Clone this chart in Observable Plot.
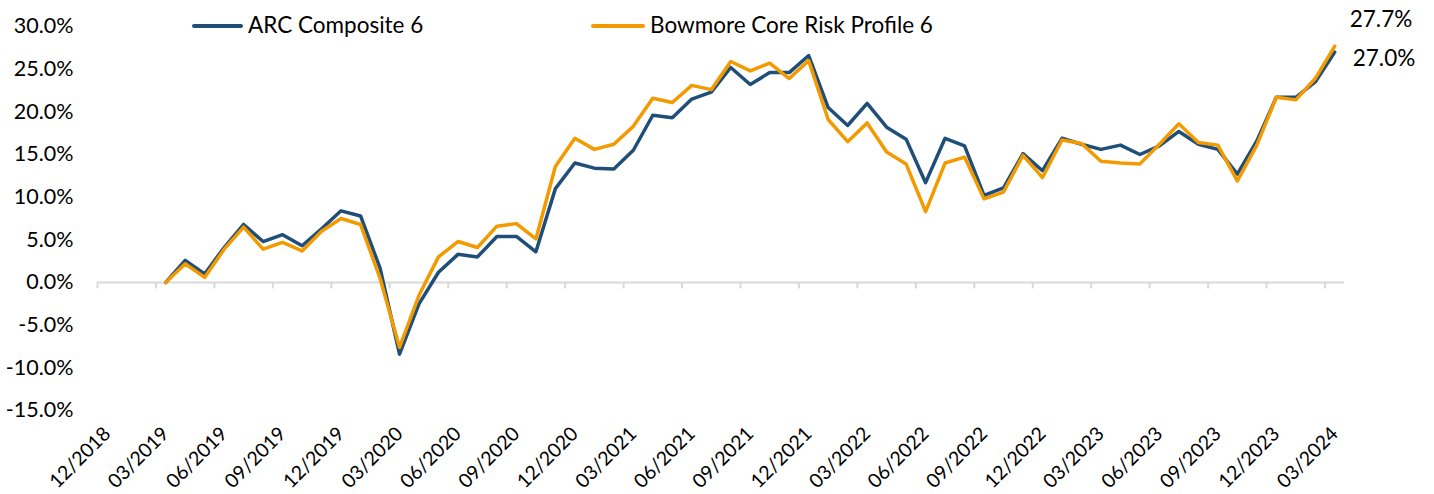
<!DOCTYPE html>
<html><head><meta charset="utf-8">
<script src="https://cdn.jsdelivr.net/npm/d3@7"></script>
<script src="https://cdn.jsdelivr.net/npm/@observablehq/plot@0.6"></script>
<style>
body{margin:0;background:#fff;font-family:Lato,sans-serif;}
#wrap{position:relative;width:1434px;height:494px;overflow:hidden;}
.sw{position:absolute;height:4px;border-radius:2px;}
.lt{position:absolute;font-size:22.5px;line-height:24px;color:#000;white-space:nowrap;}
</style></head><body><div id="wrap"></div>
<script>
const months = ["12/2018","01/2019","02/2019","03/2019","04/2019","05/2019","06/2019","07/2019","08/2019","09/2019","10/2019","11/2019",
"12/2019","01/2020","02/2020","03/2020","04/2020","05/2020","06/2020","07/2020","08/2020","09/2020","10/2020","11/2020",
"12/2020","01/2021","02/2021","03/2021","04/2021","05/2021","06/2021","07/2021","08/2021","09/2021","10/2021","11/2021",
"12/2021","01/2022","02/2022","03/2022","04/2022","05/2022","06/2022","07/2022","08/2022","09/2022","10/2022","11/2022",
"12/2022","01/2023","02/2023","03/2023","04/2023","05/2023","06/2023","07/2023","08/2023","09/2023","10/2023","11/2023",
"12/2023","01/2024","02/2024","03/2024"];
const startMonth = "03/2019";
const seriesNames = ["ARC Composite 6", "Bowmore Core Risk Profile 6"];
const seriesColors = ["#1F4E79", "#F39A00"];
// cumulative returns (%) from 03/2019 to 03/2024
const arc = [0.0,2.6,1.0,4.1,6.8,4.8,5.6,4.3,6.3,8.4,7.8,1.7,-8.4,-2.5,1.2,3.3,3.0,5.4,5.4,3.6,
11.0,14.0,13.4,13.3,15.5,19.6,19.3,21.5,22.3,25.2,23.2,24.6,24.6,26.6,20.5,18.4,21.0,18.2,16.8,11.7,
16.9,16.0,10.2,11.1,15.1,13.1,16.9,16.2,15.6,16.1,15.0,16.0,17.7,16.2,15.6,12.7,16.6,21.7,21.7,23.5,27.0];
const bowmore = [0.0,2.2,0.6,3.9,6.5,3.9,4.7,3.7,6.0,7.5,6.8,0.5,-7.6,-1.5,3.0,4.8,4.1,6.6,6.9,5.1,
13.6,16.9,15.6,16.2,18.3,21.6,21.1,23.1,22.6,25.9,24.8,25.7,23.9,26.0,19.1,16.5,18.7,15.3,13.9,8.3,
14.0,14.7,9.8,10.6,14.9,12.3,16.7,16.3,14.2,14.0,13.9,16.2,18.6,16.4,16.1,11.9,16.1,21.7,21.4,23.9,27.7];
const yTicks = [-15,-10,-5,0,5,10,15,20,25,30];

const start = months.indexOf(startMonth);
const rows = [];
arc.forEach((v,i)=>rows.push({series:seriesNames[0], x:start+i+0.5, y:v}));
bowmore.forEach((v,i)=>rows.push({series:seriesNames[1], x:start+i+0.5, y:v}));
const labelIdx = d3.range(0, months.length, 3);
const lastX = start + arc.length - 1 + 0.5;
const endArc = [{x:lastX, y:arc[arc.length-1], label:arc[arc.length-1].toFixed(1)+"%"}];
const endBow = [{x:lastX, y:bowmore[bowmore.length-1], label:bowmore[bowmore.length-1].toFixed(1)+"%"}];

const chart = Plot.plot({
  width:1434, height:494,
  marginLeft:97, marginRight:90, marginTop:26, marginBottom:84,
  x:{domain:[0, months.length], axis:null},
  y:{domain:[-15, 30], axis:null},
  color:{domain:seriesNames, range:seriesColors},
  style:{fontFamily:"Lato, sans-serif", background:"white", color:"#000", overflow:"visible"},
  marks:[
    Plot.axisY({ticks:yTicks, tickSize:0, tickPadding:24, fontSize:21.5, label:null,
      tickFormat:d=>d.toFixed(1)+"%", anchor:"left"}),
    Plot.axisX({ticks:labelIdx.map(i=>i+0.5), tickSize:0, tickPadding:20, tickRotate:-45, fontSize:19.5, label:null,
      tickFormat:d=>months[Math.round(d-0.5)], anchor:"bottom"}),
    Plot.ruleY([0], {x1:0, x2:months.length, stroke:"#d9d9d9", strokeWidth:2}),
    Plot.ruleX(labelIdx, {y1:0, y2:-0.75, stroke:"#d9d9d9", strokeWidth:2}),
    Plot.line(rows, {x:"x", y:"y", z:"series", stroke:"series", strokeWidth:3.5, strokeLinejoin:"round"}),
    Plot.text(endBow, {x:"x", y:"y", text:"label", dx:15, dy:-26, textAnchor:"start", fontSize:22.5, fill:"#000"}),
    Plot.text(endArc, {x:"x", y:"y", text:"label", dx:18, dy:7, textAnchor:"start", fontSize:22.5, fill:"#000"})
  ]
});
const wrap = document.getElementById("wrap");
wrap.appendChild(chart);
const legendPos = [{x1:192, x2:243, tx:248}, {x1:591, x2:645, tx:650}];
seriesNames.forEach((name,i)=>{
  const p = legendPos[i];
  const sw = document.createElement("div");
  sw.className = "sw";
  sw.style.left = p.x1+"px"; sw.style.width = (p.x2-p.x1)+"px"; sw.style.top = "24px";
  sw.style.background = seriesColors[i];
  wrap.appendChild(sw);
  const t = document.createElement("div");
  t.className = "lt";
  t.style.left = p.tx+"px"; t.style.top = "13px";
  t.textContent = name;
  wrap.appendChild(t);
});
</script></body></html>
